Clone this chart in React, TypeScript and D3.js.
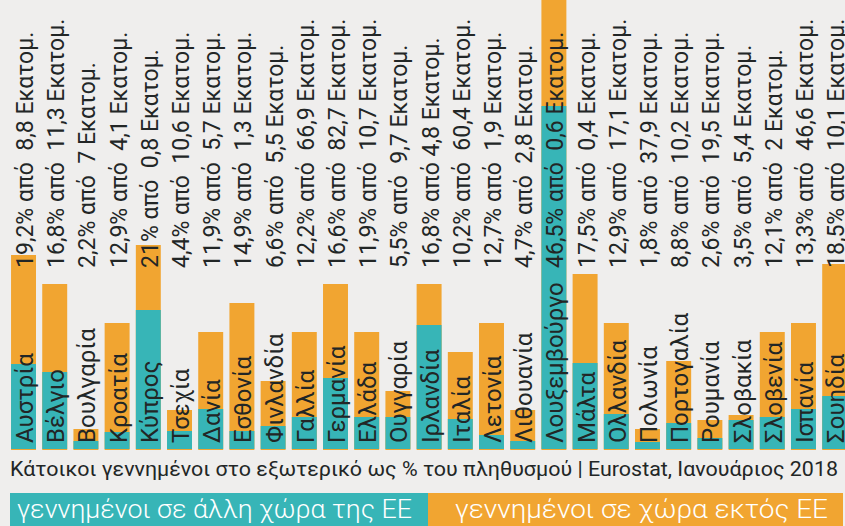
import React from "react";
import * as d3 from "d3";

const countries = [
  "Αυστρία", "Βέλγιο", "Βουλγαρία", "Κροατία", "Κύπρος", "Τσεχία", "Δανία",
  "Εσθονία", "Φινλανδία", "Γαλλία", "Γερμανία", "Ελλάδα", "Ουγγαρία", "Ιρλανδία",
  "Ιταλία", "Λετονία", "Λιθουανία", "Λουξεμβούργο", "Μάλτα", "Ολλανδία", "Πολωνία",
  "Πορτογαλία", "Ρουμανία", "Σλοβακία", "Σλοβενία", "Ισπανία", "Σουηδία",
];

// % of population born in another EU country
const euBorn = [
  8.5, 7.7, 0.8, 1.7, 13.9, 1.8, 4.0, 1.8, 2.3, 3.2, 7.1, 3.2, 3.2, 12.4,
  3.0, 1.4, 0.8, 34.3, 8.6, 3.5, 0.7, 2.6, 1.1, 2.9, 3.2, 4.0, 5.3,
];

// % of population born outside the EU
const nonEuBorn = [
  10.9, 8.8, 1.2, 10.9, 6.5, 2.1, 7.7, 12.8, 4.5, 8.5, 9.4, 8.5, 2.6, 4.1,
  6.7, 11.2, 3.1, 12.2, 8.9, 9.1, 1.3, 6.2, 1.8, 0.5, 8.5, 8.6, 13.2,
];

const totalLabels = [
  "19,2%", "16,8%", "2,2%", "12,9%", "21%", "4,4%", "11,9%", "14,9%", "6,6%",
  "12,2%", "16,6%", "11,9%", "5,5%", "16,8%", "10,2%", "12,7%", "4,7%", "46,5%",
  "17,5%", "12,9%", "1,8%", "8,8%", "2,6%", "3,5%", "12,1%", "13,3%", "18,5%",
];

// population in millions
const population = [
  "8,8", "11,3", "7", "4,1", "0,8", "10,6", "5,7", "1,3", "5,5", "66,9", "82,7",
  "10,7", "9,7", "4,8", "60,4", "1,9", "2,8", "0,6", "0,4", "17,1", "37,9",
  "10,2", "19,5", "5,4", "2", "46,6", "10,1",
];

const singleSpace = ["Ιρλανδία"];

const width = 845;
const height = 526;
const teal = "#37b5b7";
const orange = "#f1a531";
const ink = "#222626";
const font = "Roboto, 'Noto Sans', sans-serif";

const App = () => {
  const x = d3
    .scaleBand<string>()
    .domain(countries)
    .range([4.8, 853.4])
    .paddingInner(0.2)
    .paddingOuter(0.2);

  const y = d3.scaleLinear().domain([0, 20]).range([449, 249]);

  const rows = countries.map((c, i) => ({
    country: c,
    eu: euBorn[i],
    total: euBorn[i] + nonEuBorn[i],
    label:
      totalLabels[i] +
      (singleSpace.includes(c) ? " από " : " από  ") +
      population[i] +
      " Εκατομ.",
  }));

  return (
    <svg
      width={width}
      height={height}
      style={{ position: "absolute", left: 0, top: 0, display: "block" }}
    >
      <rect width={width} height={height} fill="#efeeed" />

      {/* stacked bars */}
      {rows.map((d) => (
        <g key={d.country}>
          <rect
            x={x(d.country)!}
            y={y(d.total)}
            width={x.bandwidth()}
            height={y(0) - y(d.total) + 1}
            fill={orange}
          />
          <rect
            x={x(d.country)!}
            y={y(d.eu)}
            width={x.bandwidth()}
            height={y(0) - y(d.eu)}
            fill={teal}
          />
        </g>
      ))}

      {/* country names inside bars */}
      {rows.map((d) => (
        <text
          key={"n" + d.country}
          transform={`translate(${x(d.country)! + 22},443) rotate(-90)`}
          fontFamily={font}
          fontSize={24}
          fill={ink}
        >
          {d.country}
        </text>
      ))}

      {/* share + population labels */}
      {rows.map((d) => (
        <text
          key={"l" + d.country}
          transform={`translate(${x(d.country)! + 22},268) rotate(-90) scale(0.96,1)`}
          fontFamily={font}
          fontSize={24}
          fill={ink}
          style={{ whiteSpace: "pre" }}
        >
          {d.label}
        </text>
      ))}

      <text
        x={10}
        y={476}
        fontFamily={font}
        fontSize={21}
        fill={ink}
        textLength={828}
        lengthAdjust="spacingAndGlyphs"
      >
        Κάτοικοι γεννημένοι στο εξωτερικό ως % του πληθυσμού | Eurostat, Ιανουάριος 2018
      </text>

      {/* legend */}
      <rect x={10} y={493} width={418} height={33} fill={teal} />
      <rect x={428} y={493} width={415} height={33} fill={orange} />
      <text
        x={17}
        y={518}
        fontFamily={font}
        fontSize={25}
        fontWeight={300}
        fill="#fff"
        textLength={395}
        lengthAdjust="spacingAndGlyphs"
      >
        γεννημένοι σε άλλη χώρα της ΕΕ
      </text>
      <text
        x={455}
        y={518}
        fontFamily={font}
        fontSize={25}
        fontWeight={300}
        fill="#fff"
        textLength={373}
        lengthAdjust="spacingAndGlyphs"
      >
        γεννημένοι σε χώρα εκτός ΕΕ
      </text>
    </svg>
  );
};

export default App;
